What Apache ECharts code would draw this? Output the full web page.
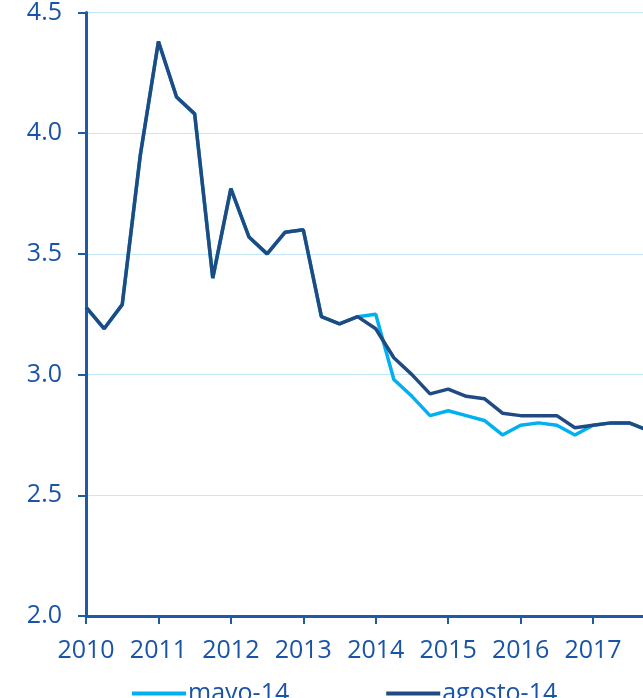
<!DOCTYPE html>
<html>
<head>
<meta charset="utf-8">
<script src="https://cdn.jsdelivr.net/npm/echarts@6/dist/echarts.min.js"></script>
<style>
html, body { margin: 0; padding: 0; background: #fff; }
#chart { width: 643px; height: 698px; }
</style>
</head>
<body>
<div id="chart"></div>
<script>
// trimestres desde 2010 T1
var quarters = [
    2010.00, 2010.25, 2010.50, 2010.75,
    2011.00, 2011.25, 2011.50, 2011.75,
    2012.00, 2012.25, 2012.50, 2012.75,
    2013.00, 2013.25, 2013.50, 2013.75,
    2014.00, 2014.25, 2014.50, 2014.75,
    2015.00, 2015.25, 2015.50, 2015.75,
    2016.00, 2016.25, 2016.50, 2016.75,
    2017.00, 2017.25, 2017.50, 2017.75
];

var mayo14 = [
    3.28, 3.19, 3.29, 3.91,
    4.38, 4.15, 4.08, 3.40,
    3.77, 3.57, 3.50, 3.59,
    3.60, 3.24, 3.21, 3.24,
    3.25, 2.98, 2.91, 2.83,
    2.85, 2.83, 2.81, 2.75,
    2.79, 2.80, 2.79, 2.75,
    2.79, 2.80, 2.80, 2.77
];

var agosto14 = [
    3.28, 3.19, 3.29, 3.91,
    4.38, 4.15, 4.08, 3.40,
    3.77, 3.57, 3.50, 3.59,
    3.60, 3.24, 3.21, 3.24,
    3.19, 3.07, 3.00, 2.92,
    2.94, 2.91, 2.90, 2.84,
    2.83, 2.83, 2.83, 2.78,
    2.79, 2.80, 2.80, 2.77
];

var yTicks = [2.0, 2.5, 3.0, 3.5, 4.0, 4.5];

function pairs(vals) {
    var out = [];
    for (var i = 0; i < vals.length; i++) {
        out.push([quarters[i], vals[i]]);
    }
    return out;
}

var textBlue = '#1954a8';
var axisBlue = '#1f5aa8';
var font = 'Open Sans';

var myChart = echarts.init(document.getElementById('chart'), null, { renderer: 'canvas' });

var option = {
    animation: false,
    grid: { left: 86, right: 0, top: 12, bottom: 82, containLabel: false },
    legend: {
        left: 127,
        top: 676,
        itemWidth: 54,
        itemHeight: 14,
        itemGap: 97,
        icon: 'path://M0,0 L54,0 L54,4 L0,4 Z',
        textStyle: { color: textBlue, fontFamily: font, fontSize: 25, padding: [0, 0, 0, -3] },
        data: ['mayo-14', 'agosto-14']
    },
    xAxis: {
        type: 'value',
        min: 2010,
        max: 2017.69,
        interval: 1,
        axisLine: { show: true, onZero: false, lineStyle: { color: axisBlue, width: 3 } },
        axisTick: { show: true, length: 8, lineStyle: { color: axisBlue, width: 2 } },
        splitLine: { show: false },
        axisLabel: {
            color: textBlue, fontFamily: font, fontSize: 25, margin: 22,
            showMaxLabel: false,
            formatter: function (v) { return String(Math.round(v)); }
        }
    },
    yAxis: {
        type: 'value',
        min: yTicks[0],
        max: yTicks[yTicks.length - 1],
        interval: 0.5,
        axisLine: { show: true, lineStyle: { color: axisBlue, width: 3 } },
        axisTick: { show: true, length: 8, lineStyle: { color: axisBlue, width: 2 } },
        splitLine: { show: true, lineStyle: { color: '#c4e8f8', width: 1 } },
        axisLabel: {
            color: textBlue, fontFamily: font, fontSize: 25, margin: 24,
            formatter: function (v) { return v.toFixed(1); }
        }
    },
    series: [
        {
            name: 'mayo-14',
            type: 'line',
            data: pairs(mayo14),
            showSymbol: false,
            lineStyle: { color: '#00b0f0', width: 3.5 },
            itemStyle: { color: '#00b0f0' },
            z: 2
        },
        {
            name: 'agosto-14',
            type: 'line',
            data: pairs(agosto14),
            showSymbol: false,
            lineStyle: { color: '#1f4b82', width: 3.5 },
            itemStyle: { color: '#1f4b82' },
            z: 3
        }
    ]
};

option && myChart.setOption(option);
</script>
</body>
</html>
